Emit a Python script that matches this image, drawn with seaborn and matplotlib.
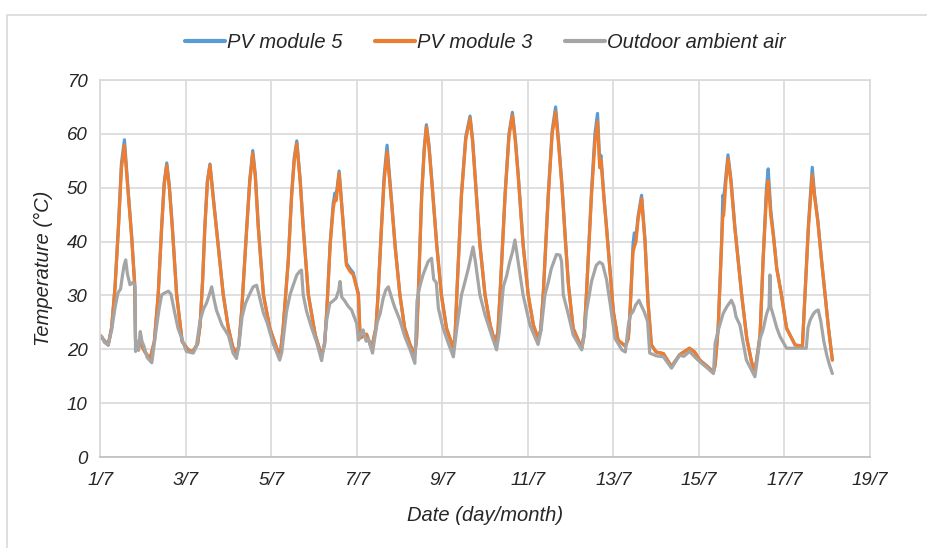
import numpy as np
import pandas as pd
import seaborn as sns
import matplotlib
import matplotlib.pyplot as plt
from matplotlib.patches import Rectangle

matplotlib.use('Agg')

# time axis in days after 1/7 00:00, temperatures in degC
pv_days = [
    0.00, 0.08, 0.19, 0.27, 0.35, 0.43, 0.50, 0.57, 0.66, 0.74, 0.81, 0.83, 0.95, 1.05, 1.17,
    1.27, 1.36, 1.44, 1.50, 1.56, 1.62, 1.69, 1.79, 1.92, 2.05, 2.16,
    2.28, 2.34, 2.40, 2.45, 2.51, 2.57, 2.66, 2.76, 2.88, 3.00, 3.10, 3.19,
    3.24, 3.31, 3.43, 3.50, 3.57, 3.63, 3.70, 3.82, 3.97, 4.17,
    4.22, 4.28, 4.40, 4.48, 4.54, 4.60, 4.68, 4.75, 4.87, 5.03, 5.18,
    5.25, 5.30, 5.38, 5.45, 5.49, 5.52, 5.59, 5.69, 5.76, 5.84, 5.92, 6.04, 6.08, 6.23, 6.35,
    6.45, 6.50, 6.58, 6.64, 6.71, 6.82, 6.90, 7.01, 7.12, 7.25, 7.36,
    7.40, 7.44, 7.52, 7.58, 7.63, 7.69, 7.75, 7.87, 7.98, 8.10, 8.26,
    8.30, 8.34, 8.45, 8.55, 8.65, 8.71, 8.77, 8.88, 9.00, 9.12, 9.23,
    9.30, 9.35, 9.47, 9.56, 9.64, 9.71, 9.78, 9.89, 10.01, 10.13, 10.24,
    10.30, 10.36, 10.48, 10.57, 10.65, 10.72, 10.80, 10.88, 10.95, 11.06, 11.26,
    11.32, 11.37, 11.49, 11.57, 11.63, 11.68, 11.71, 11.78, 11.84, 12.00, 12.11, 12.28,
    12.35, 12.39, 12.46, 12.49, 12.53, 12.58, 12.66, 12.74, 12.81, 12.89, 13.00, 13.17,
    13.36, 13.55, 13.78, 13.90, 14.02, 14.20, 14.34,
    14.38, 14.45, 14.53, 14.56, 14.58, 14.63, 14.68, 14.75, 14.84, 15.00, 15.12, 15.23, 15.31,
    15.43, 15.50, 15.58, 15.62, 15.68, 15.74, 15.82, 15.93, 16.05, 16.25, 16.42,
    16.48, 16.56, 16.65, 16.70, 16.78, 16.87, 16.95, 17.03, 17.12,
]
pv3 = [
    22.6, 21.8, 20.8, 24.0, 31.4, 42.5, 53.6, 57.9, 48.6, 40.6, 32.0, 21.5, 21.0, 19.5, 18.2,
    21.5, 30.1, 42.5, 50.5, 54.2, 50.0, 42.5, 30.1, 21.4, 20.0, 19.5,
    21.0, 24.5, 33.0, 42.5, 51.0, 54.2, 47.0, 39.4, 30.1, 23.9, 20.5, 19.3,
    20.5, 27.0, 42.5, 51.0, 56.4, 52.0, 42.5, 30.1, 23.9, 19.3,
    19.5, 23.9, 36.3, 48.6, 55.0, 58.2, 51.0, 42.5, 30.1, 22.7, 18.8,
    21.0, 27.0, 39.4, 46.0, 48.0, 47.6, 52.7, 42.5, 35.6, 34.5, 33.8, 30.1, 22.1, 22.8, 20.2,
    24.0, 30.1, 42.5, 51.0, 56.7, 46.8, 38.8, 30.1, 24.0, 20.8, 19.1,
    22.0, 30.1, 48.6, 57.0, 61.3, 57.5, 51.7, 39.4, 30.1, 23.9, 20.2,
    22.5, 30.1, 48.6, 59.0, 62.9, 58.5, 51.7, 39.4, 30.1, 24.5, 21.4,
    23.0, 30.1, 48.6, 59.5, 63.5, 58.5, 51.7, 39.4, 30.1, 24.5, 22.0,
    23.5, 30.1, 48.6, 60.0, 64.1, 58.0, 50.0, 40.0, 32.0, 23.9, 20.2,
    23.0, 30.1, 48.6, 58.5, 62.3, 53.7, 55.2, 48.0, 42.5, 27.0, 21.7, 20.6,
    22.0, 27.0, 38.1, 39.0, 40.0, 44.3, 48.0, 40.0, 28.8, 20.8, 19.5, 19.2,
    16.8, 19.0, 20.2, 19.5, 18.0, 16.8, 15.8,
    17.1, 23.9, 39.4, 45.0, 44.9, 51.0, 55.4, 51.0, 42.5, 30.1, 22.0, 17.7, 15.8,
    22.6, 36.3, 48.6, 51.3, 44.9, 41.1, 35.0, 30.1, 23.9, 20.8, 20.6,
    30.1, 42.5, 52.4, 48.6, 43.7, 36.3, 30.1, 23.9, 18.0,
]
pv5 = [
    22.6, 21.8, 20.8, 24.0, 31.6, 42.8, 54.5, 58.9, 49.2, 41.0, 32.2, 21.5, 21.0, 19.5, 18.2,
    21.5, 30.3, 42.8, 51.0, 54.6, 50.4, 42.8, 30.3, 21.5, 20.0, 19.5,
    21.0, 24.5, 33.2, 42.8, 51.3, 54.4, 47.2, 39.6, 30.2, 24.0, 20.5, 19.3,
    20.5, 27.0, 42.8, 51.5, 56.9, 52.4, 42.8, 30.1, 23.9, 19.3,
    19.5, 23.9, 36.6, 49.0, 55.6, 58.7, 51.4, 42.8, 30.1, 22.7, 18.8,
    21.0, 27.0, 39.8, 47.0, 49.0, 48.5, 53.1, 42.8, 36.0, 35.0, 34.2, 30.3, 22.1, 22.8, 20.2,
    24.0, 30.4, 43.0, 52.0, 57.9, 47.2, 39.2, 30.1, 24.0, 20.8, 19.1,
    22.0, 30.4, 49.0, 57.5, 61.7, 57.9, 52.0, 39.6, 30.1, 23.9, 20.2,
    22.5, 30.1, 49.0, 59.5, 63.3, 59.0, 52.0, 39.6, 30.1, 24.5, 21.4,
    23.0, 30.1, 49.0, 60.0, 64.0, 59.0, 52.0, 39.6, 30.1, 24.5, 22.0,
    23.5, 30.1, 49.0, 60.6, 65.0, 58.6, 50.4, 40.3, 32.0, 23.9, 20.2,
    23.0, 30.1, 49.5, 60.0, 63.8, 55.0, 56.0, 48.4, 42.8, 27.0, 21.7, 20.6,
    22.0, 27.0, 39.5, 41.6, 41.0, 44.8, 48.6, 40.3, 28.8, 20.8, 19.5, 19.2,
    16.8, 19.0, 20.2, 19.5, 18.0, 16.8, 15.8,
    17.1, 23.9, 40.0, 48.6, 48.0, 52.0, 56.1, 51.5, 42.8, 30.1, 22.0, 17.7, 15.8,
    22.6, 36.6, 50.0, 53.5, 45.8, 41.5, 35.0, 30.1, 23.9, 20.8, 20.6,
    30.1, 43.0, 53.8, 49.0, 44.0, 36.3, 30.1, 23.9, 18.0,
]

amb_days = [
    0.00, 0.05, 0.10, 0.19, 0.27, 0.35, 0.42, 0.48, 0.52, 0.56, 0.60, 0.64, 0.70, 0.78, 0.82,
    0.83, 0.86, 0.90, 0.94, 0.98, 1.03, 1.10, 1.21,
    1.30, 1.38, 1.44, 1.52, 1.60, 1.66, 1.74, 1.82, 1.95, 2.02, 2.18,
    2.25, 2.34, 2.42, 2.49, 2.55, 2.61, 2.66, 2.72, 2.85, 3.00, 3.11, 3.19,
    3.25, 3.32, 3.40, 3.47, 3.58, 3.66, 3.72, 3.82, 3.90, 4.05, 4.20,
    4.25, 4.30, 4.36, 4.44, 4.52, 4.60, 4.67, 4.71, 4.75, 4.83, 4.95, 5.06, 5.18,
    5.25, 5.30, 5.37, 5.45, 5.52, 5.58, 5.61, 5.65, 5.72, 5.80, 5.88, 6.00, 6.04, 6.10, 6.15,
    6.22, 6.27, 6.37,
    6.42, 6.48, 6.55, 6.62, 6.68, 6.74, 6.80, 6.88, 7.01, 7.12, 7.25, 7.36,
    7.41, 7.47, 7.55, 7.67, 7.75, 7.80, 7.86, 7.91, 8.02, 8.13, 8.26,
    8.34, 8.45, 8.53, 8.61, 8.72, 8.78, 8.88, 9.00, 9.15, 9.27,
    9.33, 9.43, 9.50, 9.58, 9.64, 9.70, 9.76, 9.89, 10.05, 10.24,
    10.31, 10.40, 10.48, 10.55, 10.67, 10.75, 10.79, 10.83, 10.95, 11.06, 11.26,
    11.32, 11.37, 11.49, 11.60, 11.68, 11.75, 11.84, 11.94, 12.04, 12.20, 12.28,
    12.35, 12.40, 12.46, 12.52, 12.60, 12.66, 12.72, 12.80, 12.85, 13.00, 13.17,
    13.36, 13.55, 13.65, 13.78, 13.90, 14.02, 14.20, 14.34,
    14.38, 14.45, 14.57, 14.66, 14.76, 14.82, 14.87, 14.96, 15.11, 15.31,
    15.38, 15.43, 15.50, 15.58, 15.64, 15.66, 15.68, 15.75, 15.82, 15.90, 16.05, 16.51,
    16.55, 16.60, 16.67, 16.72, 16.79, 16.85, 16.92, 16.99, 17.05, 17.12,
]
amb = [
    22.6, 22.3, 21.3, 20.8, 23.5, 27.7, 30.5, 31.2, 33.5, 35.5, 36.6, 34.0, 32.0, 32.5, 31.5,
    19.6, 21.5, 19.8, 23.3, 21.5, 20.5, 18.5, 17.5,
    23.0, 27.5, 30.1, 30.5, 30.8, 30.2, 27.0, 24.0, 21.1, 19.6, 19.3,
    20.5, 25.4, 27.5, 28.6, 30.0, 31.6, 29.5, 27.3, 24.5, 22.6, 19.3, 18.3,
    21.0, 26.0, 28.5, 29.8, 31.6, 31.9, 30.0, 26.7, 25.1, 21.0, 18.0,
    19.5, 23.0, 27.0, 30.1, 32.0, 33.8, 34.5, 34.7, 30.1, 27.0, 23.9, 21.4, 17.9,
    21.5, 25.5, 28.5, 29.0, 29.5, 31.0, 32.6, 29.7, 29.0, 28.0, 27.3, 24.8, 21.7, 23.0, 23.6,
    21.5, 22.0, 19.3,
    22.0, 25.0, 26.7, 29.5, 31.0, 31.6, 30.0, 28.0, 25.4, 22.5, 19.9, 17.4,
    29.0, 31.5, 33.8, 36.3, 36.9, 33.0, 32.4, 27.6, 23.9, 21.4, 18.6,
    23.9, 30.1, 32.5, 35.0, 39.0, 36.0, 30.1, 26.4, 22.7, 19.9,
    23.0, 31.7, 33.5, 36.3, 38.0, 40.3, 37.0, 30.1, 24.5, 20.9,
    23.5, 30.1, 32.5, 35.0, 37.6, 37.5, 36.3, 30.1, 26.4, 22.7, 19.9,
    22.5, 27.0, 32.6, 35.6, 36.2, 35.8, 33.0, 27.7, 22.0, 19.9, 19.5,
    24.5, 26.4, 27.0, 28.2, 29.1, 28.0, 27.0, 25.2, 19.3, 18.8, 18.6,
    16.5, 18.9, 18.7, 19.6, 18.6, 17.7, 16.5, 15.5,
    21.1, 23.5, 26.7, 28.0, 29.1, 28.0, 26.0, 24.5, 18.0, 14.9,
    19.0, 22.0, 23.6, 26.5, 27.9, 33.8, 27.9, 26.0, 24.0, 22.3, 20.2, 20.2,
    24.0, 25.4, 26.5, 27.0, 27.3, 25.2, 21.5, 18.9, 17.2, 15.5,
]

series_names = ['PV module 5', 'PV module 3', 'Outdoor ambient air']
series_colors = ['#5B9BD5', '#ED7D31', '#A5A5A5']
tick_days = [0, 2, 4, 6, 8, 10, 12, 14, 16, 18]
tick_labels = ['1/7', '3/7', '5/7', '7/7', '9/7', '11/7', '13/7', '15/7', '17/7', '19/7']

df = pd.concat([
    pd.DataFrame({'day': pv_days, 'temp': pv5, 'series': series_names[0]}),
    pd.DataFrame({'day': pv_days, 'temp': pv3, 'series': series_names[1]}),
    pd.DataFrame({'day': amb_days, 'temp': amb, 'series': series_names[2]}),
], ignore_index=True)

sns.set_theme(style='white')
plt.rcParams['font.family'] = ['Liberation Sans', 'DejaVu Sans']
plt.rcParams['font.style'] = 'italic'

fig = plt.figure(figsize=(9.28, 5.48), dpi=100)
ax = fig.add_axes([0.1078, 0.166, 0.8297, 0.688])

sns.lineplot(data=df, x='day', y='temp', hue='series', hue_order=series_names,
             palette=series_colors, estimator=None, sort=False, linewidth=2.3, ax=ax)

ax.set_xlim(0, 18)
ax.set_ylim(0, 70)
ax.set_xticks(tick_days)
ax.set_xticklabels(tick_labels)
ax.set_yticks(range(0, 71, 10))
ax.grid(True, color='#D9D9D9', linewidth=1.2)
ax.set_axisbelow(True)
for side in ['top', 'right', 'left']:
    ax.spines[side].set_color('#D9D9D9')
    ax.spines[side].set_linewidth(1.2)
ax.spines['bottom'].set_color('#BFBFBF')
ax.spines['bottom'].set_linewidth(1.2)
ax.tick_params(axis='both', length=0, labelsize=13.5, colors='#262626')
ax.tick_params(axis='x', pad=11)
ax.tick_params(axis='y', pad=9)
for lbl in ax.get_xticklabels() + ax.get_yticklabels():
    lbl.set_fontstyle('italic')

ax.set_xlabel('Date (day/month)', fontsize=14.5, style='italic', color='#262626', labelpad=12)
ax.set_ylabel('Temperature (°C)', fontsize=14.5, style='italic', color='#262626', labelpad=10)

sns.move_legend(ax, 'center', bbox_to_anchor=(0.5, 1.1), ncol=3, title=None,
                frameon=False, fontsize=14.5, handlelength=2.0, handletextpad=0.1,
                columnspacing=1.6)
for line in ax.get_legend().get_lines():
    line.set_linewidth(3)
for txt in ax.get_legend().get_texts():
    txt.set_fontstyle('italic')
    txt.set_color('#262626')

# light frame around the chart area like the original export
fig.add_artist(Rectangle((7 / 928, -0.05), 1.0, 1.05 - 15 / 548, transform=fig.transFigure,
                         fill=False, edgecolor='#D9D9D9', linewidth=1.2))

fig.savefig('out.png', dpi=100)
plt.close(fig)
